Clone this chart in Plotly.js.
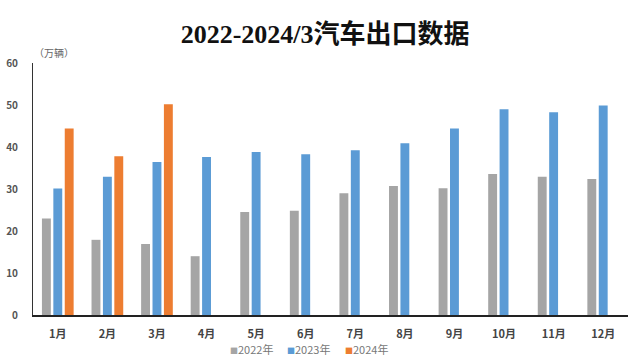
<!DOCTYPE html>
<html>
<head>
<meta charset="utf-8">
<script src="https://cdn.plot.ly/plotly-3.0.1.min.js"></script>
<style>html,body{margin:0;padding:0;background:#fff;}#chart{width:640px;height:361px;}</style>
</head>
<body>
<div id="chart"></div>
<script>
const months = ["1月","2月","3月","4月","5月","6月","7月","8月","9月","10月","11月","12月"];
const seriesNames = ["2022年","2023年","2024年"];
const v2022 = [23.0, 17.9, 16.9, 14.0, 24.5, 24.8, 29.0, 30.7, 30.2, 33.6, 32.9, 32.4];
const v2023 = [30.1, 32.9, 36.4, 37.6, 38.8, 38.3, 39.2, 40.9, 44.4, 49.0, 48.3, 49.9];
const v2024 = [44.4, 37.8, 50.2, null, null, null, null, null, null, null, null, null];
const colors = ["#A5A5A5", "#5B9BD5", "#ED7D31"];
const yTicks = [0, 10, 20, 30, 40, 50, 60];

const cjk = '"Noto Sans CJK SC", "Noto Sans", sans-serif';
const traces = [v2022, v2023, v2024].map((vals, i) => ({
  type: "bar",
  name: seriesNames[i],
  x: months,
  y: vals,
  marker: {color: colors[i]},
  hoverinfo: "x+y+name"
}));

// legend drawn as a row of text entries under the axis
const legendX = [228, 285, 343];
const legendAnn = seriesNames.map((n, i) => ({
  text: '<span style="color:' + colors[i] + ';font-size:8px">■</span>' + n,
  xref: "paper", yref: "paper",
  x: (legendX[i] - 33) / 595, y: (315 - 349) / 252,
  xanchor: "left", yanchor: "middle", showarrow: false,
  font: {family: cjk, size: 11, color: "#777"}
}));

const layout = {
  width: 640, height: 361,
  margin: {l: 33, r: 12, t: 63, b: 46, autoexpand: false},
  paper_bgcolor: "#fff", plot_bgcolor: "#fff",
  barmode: "group", bargap: 0.31, bargroupgap: 0.22,
  title: {
    text: "<b>2022-2024/3汽车出口数据</b>",
    font: {family: '"Liberation Serif", "Noto Sans CJK SC", serif', size: 26, color: "#111"},
    x: 0.508, xanchor: "center", y: 0.905, yanchor: "middle"
  },
  xaxis: {
    type: "category",
    showline: true, linecolor: "#222", linewidth: 1.5,
    showgrid: false, zeroline: false, ticks: "",
    tickfont: {family: cjk, size: 11, color: "#444", weight: 600},
    ticklabelstandoff: 8
  },
  yaxis: {
    range: [0, 60], tickvals: yTicks, ticktext: yTicks.map(String),
    showline: true, linecolor: "#333", linewidth: 1,
    showgrid: false, zeroline: false, ticks: "",
    tickfont: {family: cjk, size: 10, color: "#555", weight: 600},
    ticklabelstandoff: 12
  },
  showlegend: false,
  annotations: [{
    text: "（万辆）", xref: "paper", yref: "paper", x: -0.002, y: (315 - 53) / 252,
    xanchor: "left", yanchor: "middle", showarrow: false,
    font: {family: cjk, size: 10, color: "#666"}
  }].concat(legendAnn)
};
Plotly.newPlot("chart", traces, layout, {displayModeBar: false, staticPlot: true});
</script>
</body>
</html>
